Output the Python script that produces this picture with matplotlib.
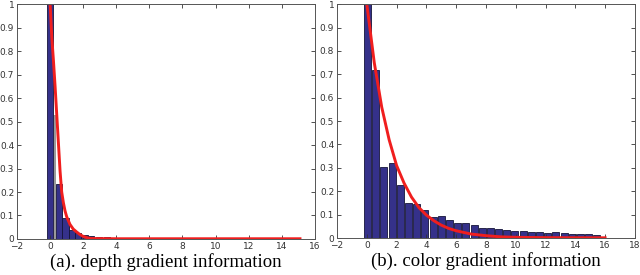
import matplotlib.pyplot as plt
import numpy as np

# ---- datos ----
# (a) profundidad: histograma normalizado
depth_centers = [0.0, 0.52, 0.93, 1.33, 1.70, 2.07, 2.47, 2.95, 3.45]
depth_heights = [1.0, 0.235, 0.088, 0.040, 0.024, 0.017, 0.012, 0.008, 0.008]
# franjas grises entre barras
depth_gray_centers = [0.28, 0.73, 1.13, 1.52]
depth_gray_heights = [0.53, 0.20, 0.065, 0.035]
# curva ajustada (roja)
depth_fit_x = [0.0, 0.1, 0.2, 0.3, 0.4, 0.5, 0.6, 0.7, 0.8, 0.9, 1.0,
               1.2, 1.4, 1.6, 1.8, 2.0, 2.2, 2.45, 4.0, 8.0, 12.0, 15.1]
depth_fit_y = [1.0, 0.86, 0.76, 0.65, 0.53, 0.41, 0.29, 0.20, 0.155, 0.12, 0.095,
               0.062, 0.042, 0.030, 0.019, 0.011, 0.006, 0.002, 0.001, 0.001,
               0.001, 0.001]

# (b) color: histograma normalizado
color_centers = [0.05 + 0.55 * i for i in range(29)]
color_heights = [1.0, 0.718, 0.303, 0.32, 0.225, 0.149, 0.145, 0.12, 0.088,
                 0.095, 0.075, 0.064, 0.064, 0.055, 0.043, 0.043, 0.038,
                 0.036, 0.031, 0.028, 0.027, 0.027, 0.021, 0.024, 0.02,
                 0.017, 0.016, 0.016, 0.013]
color_fit_x = [0.0, 0.5, 1.0, 1.5, 2.0, 2.5, 3.0, 3.5, 4.0, 4.5, 5.0, 5.5,
               6.0, 7.0, 8.0, 9.0, 10.0, 12.0, 14.0, 16.0]
color_fit_y = [1.0, 0.75, 0.56, 0.42, 0.31, 0.235, 0.175, 0.13, 0.098, 0.074,
               0.055, 0.041, 0.031, 0.017, 0.010, 0.005, 0.003, 0.0015,
               0.001, 0.001]

BAR = '#35318a'
RED = '#f01e1e'


def estilo(ax, xmax):
    ax.set_xlim(-2, xmax)
    ax.set_ylim(0, 1)
    ax.set_xticks(np.arange(-2, xmax + 1, 2))
    ax.set_yticks(np.arange(0, 1.01, 0.1))
    ax.set_yticklabels(['0'] + ['%.1f' % v for v in np.arange(0.1, 0.95, 0.1)] + ['1'])
    ax.tick_params(direction='in', length=3, width=0.6, labelsize=6.5,
                   colors='#333333', top=True, right=True, pad=2)
    for s in ax.spines.values():
        s.set_color('#555555')
        s.set_linewidth(0.7)


fig = plt.figure(figsize=(6.4, 2.75), dpi=100)

ax1 = fig.add_axes([0.0266, 0.131, 0.4654, 0.854])
ax1.bar(depth_gray_centers, depth_gray_heights, width=0.14, color='#9a9a9a', linewidth=0)
ax1.bar(depth_centers, depth_heights, width=0.38, color=BAR,
        edgecolor='#15143a', linewidth=0.6)
ax1.plot(depth_fit_x, depth_fit_y, color=RED, linewidth=2.1)
estilo(ax1, 16)
ax1.text(0.5, -0.1, '(a). depth gradient information', transform=ax1.transAxes,
         ha='center', va='center', fontsize=13.5, family='Liberation Serif')

ax2 = fig.add_axes([0.5266, 0.1345, 0.4654, 0.8505])
ax2.bar(color_centers, color_heights, width=0.47, color=BAR,
        edgecolor='#15143a', linewidth=0.6)
ax2.plot(color_fit_x, color_fit_y, color=RED, linewidth=2.1)
estilo(ax2, 18)
ax2.text(0.5, -0.1, '(b). color gradient information', transform=ax2.transAxes,
         ha='center', va='center', fontsize=13.5, family='Liberation Serif')

fig.savefig('out.png', dpi=100)
